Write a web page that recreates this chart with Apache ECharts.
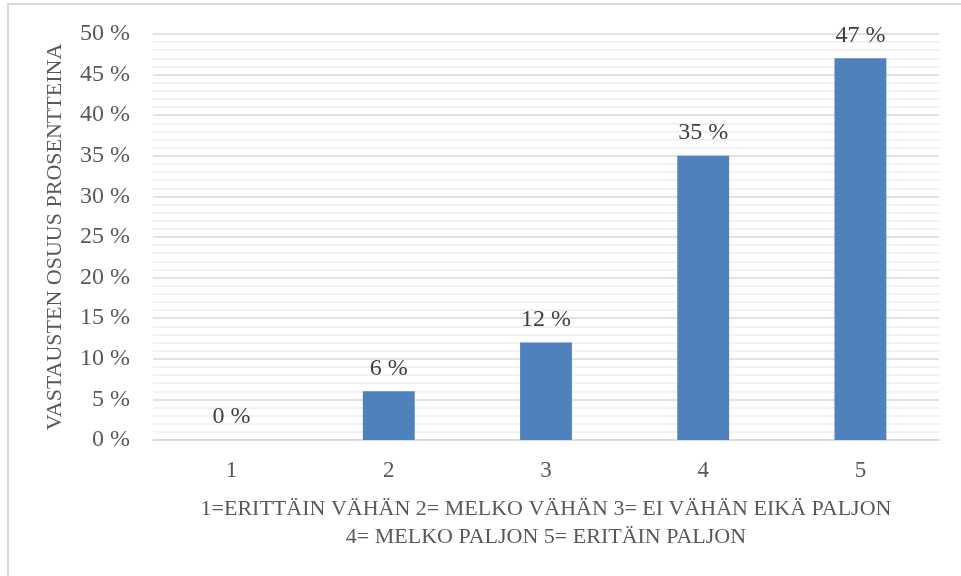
<!DOCTYPE html>
<html>
<head>
<meta charset="utf-8">
<script src="https://cdn.jsdelivr.net/npm/echarts@6/dist/echarts.min.js"></script>
<style>
  html, body { margin: 0; padding: 0; background: #fff; }
  #chart { width: 961px; height: 576px; }
</style>
</head>
<body>
<div id="chart"></div>
<script>
// data
const categories = ['1', '2', '3', '4', '5']
const shares = [0, 6, 12, 35, 47]
const yTicks = { min: 0, max: 50, step: 5 }
const xTitle = '1=ERITTÄIN VÄHÄN 2= MELKO VÄHÄN 3= EI VÄHÄN EIKÄ PALJON\n4= MELKO PALJON 5= ERITÄIN PALJON'
const yTitle = 'VASTAUSTEN OSUUS PROSENTTEINA'

const font = '"Liberation Serif", "DejaVu Serif", serif'

const myChart = echarts.init(document.getElementById('chart'))

const option = {
  backgroundColor: '#fff',
  animation: false,
  textStyle: { fontFamily: font },
  graphic: [{
    type: 'rect',
    shape: { x: 8, y: 4, width: 1000, height: 1000 },
    style: { fill: 'none', stroke: '#d9d9d9', lineWidth: 2 },
    silent: true
  }],
  grid: { left: 153, right: 22, top: 34, bottom: 136 },
  xAxis: {
    type: 'category',
    data: categories,
    axisLine: { show: true, lineStyle: { color: '#d9d9d9', width: 1.5 } },
    axisTick: { show: false },
    axisLabel: { color: '#595959', fontSize: 23, fontFamily: font, margin: 19 },
    name: xTitle,
    nameLocation: 'middle',
    nameGap: 55,
    nameTextStyle: { color: '#595959', fontSize: 22, fontFamily: font, lineHeight: 28 }
  },
  yAxis: {
    type: 'value',
    min: yTicks.min,
    max: yTicks.max,
    interval: yTicks.step,
    axisLine: { show: false },
    axisTick: { show: false },
    axisLabel: {
      color: '#595959', fontSize: 24, fontFamily: font, margin: 23,
      formatter: '{value} %'
    },
    splitLine: { lineStyle: { color: '#d9d9d9', width: 1.5 } },
    minorTick: { show: false, splitNumber: 5 },
    minorSplitLine: { show: true, lineStyle: { color: '#eeeeee', width: 1.5 } },
    name: yTitle,
    nameLocation: 'middle',
    nameRotate: 90,
    nameGap: 87,
    nameTextStyle: { color: '#595959', fontSize: 22, fontFamily: font }
  },
  series: [{
    type: 'bar',
    data: shares,
    barWidth: '33%',
    itemStyle: { color: '#4f81bd' },
    label: {
      show: true,
      position: 'top',
      distance: 11,
      color: '#404040',
      fontSize: 24,
      fontFamily: font,
      formatter: '{c} %'
    }
  }]
}

option && myChart.setOption(option)
</script>
</body>
</html>
